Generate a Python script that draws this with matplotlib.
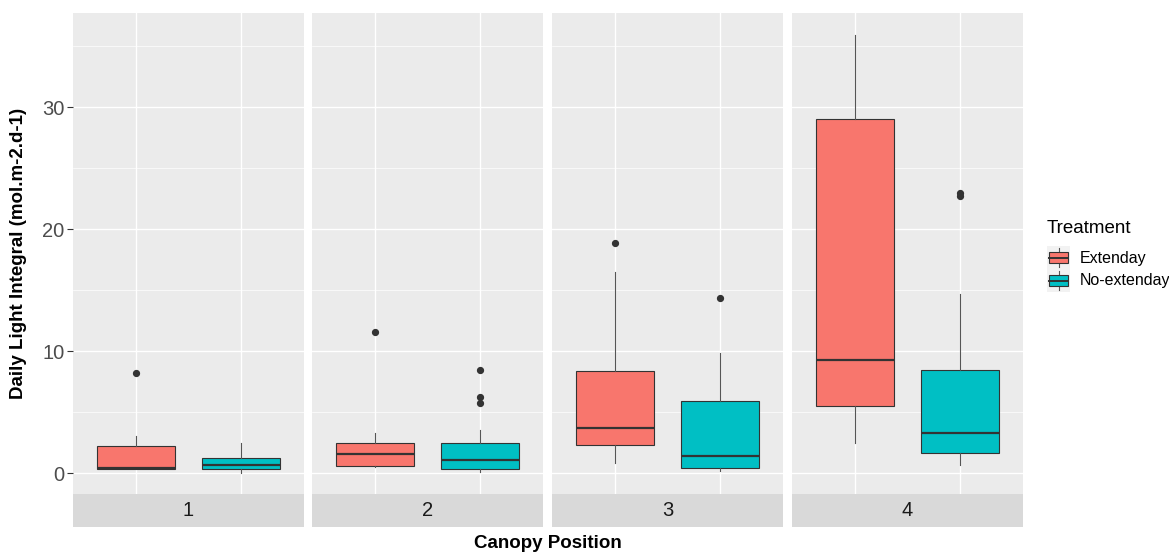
import matplotlib
matplotlib.use("Agg")
import matplotlib.pyplot as plt
from matplotlib.patches import Rectangle

plt.rcParams["font.family"] = ["Liberation Sans", "DejaVu Sans"]

# ==========================
# Box summaries per canopy position
# ==========================

positions = ["1", "2", "3", "4"]
treatments = ["Extenday", "No-extenday"]
fill_colors = {"Extenday": "#F8766D", "No-extenday": "#00BFC4"}

ext_lo = [0.33, 0.55, 0.87, 2.45]
ext_q1 = [0.33, 0.63, 2.29, 5.50]
ext_med = [0.40, 1.60, 3.73, 9.24]
ext_q3 = [2.20, 2.45, 8.34, 29.0]
ext_hi = [3.05, 3.30, 16.5, 35.9]
ext_out = [[8.25], [11.6], [18.85], []]

noext_lo = [0.05, 0.13, 0.22, 0.71]
noext_q1 = [0.38, 0.38, 0.46, 1.69]
noext_med = [0.70, 1.10, 1.42, 3.33]
noext_q3 = [1.25, 2.45, 5.94, 8.42]
noext_hi = [2.50, 3.55, 9.87, 14.72]
noext_out = [[], [8.45, 6.27, 5.78], [14.39], [22.7, 22.95]]

summaries = {
    "Extenday": (ext_lo, ext_q1, ext_med, ext_q3, ext_hi, ext_out),
    "No-extenday": (noext_lo, noext_q1, noext_med, noext_q3, noext_hi, noext_out),
}

# ==========================
# Layout (pixel based, ggplot-like)
# ==========================

W, H = 1169, 554
fig = plt.figure(figsize=(W / 100, H / 100), dpi=100)


def px_axes(x0, y0, x1, y1):
    return fig.add_axes([x0 / W, 1 - y1 / H, (x1 - x0) / W, (y1 - y0) / H])


panel_left = [73, 312, 552, 792]
panel_w = 231
top, bottom, strip_bottom = 13, 494, 527

edge = "#333333"

for i, pos in enumerate(positions):
    x0 = panel_left[i]
    ax = px_axes(x0, top, x0 + panel_w, bottom)
    ax.set_facecolor("#EBEBEB")
    for s in ax.spines.values():
        s.set_visible(False)

    stats = []
    for t in treatments:
        lo, q1, med, q3, hi, out = summaries[t]
        stats.append(dict(whislo=lo[i], q1=q1[i], med=med[i], q3=q3[i],
                          whishi=hi[i], fliers=out[i]))

    bp = ax.bxp(
        stats,
        positions=[1, 2],
        widths=0.75,
        patch_artist=True,
        showcaps=False,
        boxprops=dict(edgecolor=edge, linewidth=0.8),
        medianprops=dict(color=edge, linewidth=1.6, solid_capstyle="butt"),
        whiskerprops=dict(color="#555555", linewidth=0.8),
        flierprops=dict(marker="o", markerfacecolor=edge, markeredgecolor=edge,
                        markersize=4.2, linestyle="none"),
        zorder=3,
    )
    for patch, t in zip(bp["boxes"], treatments):
        patch.set_facecolor(fill_colors[t])

    ax.set_xlim(0.4, 2.6)
    ax.set_ylim(-1.7, 37.7)
    ax.set_xticks([1, 2])
    ax.set_yticks([0, 10, 20, 30])
    ax.set_yticks([5, 15, 25, 35], minor=True)
    ax.grid(True, which="major", color="white", linewidth=1.0, zorder=0)
    ax.grid(True, which="minor", axis="y", color="white", linewidth=0.5, zorder=0)
    ax.set_axisbelow(True)
    ax.tick_params(axis="x", length=0, labelbottom=False)
    ax.tick_params(axis="y", which="minor", length=0)
    if i == 0:
        ax.tick_params(axis="y", which="major", length=4, width=0.8, color=edge,
                       labelsize=14.5, labelcolor="#4D4D4D", pad=2)
    else:
        ax.tick_params(axis="y", which="major", length=0, labelleft=False)

    # strip below each panel
    sax = px_axes(x0, bottom, x0 + panel_w, strip_bottom)
    sax.set_facecolor("#D9D9D9")
    sax.set_xticks([])
    sax.set_yticks([])
    for s in sax.spines.values():
        s.set_visible(False)
    sax.text(0.5, 0.5, pos, ha="center", va="center", fontsize=14.5,
             color="#1A1A1A", transform=sax.transAxes)

# ==========================
# Axis titles
# ==========================

fig.text(548 / W, 1 - 543 / H, "Canopy Position", ha="center", va="center",
         fontsize=13.5, fontweight="bold")
fig.text(19 / W, 1 - 253 / H, "Daily Light Integral (mol.m-2.d-1)",
         ha="center", va="center", rotation=90, fontsize=13.5, fontweight="bold")

# ==========================
# Legend
# ==========================

fig.text(1047 / W, 1 - 228 / H, "Treatment", ha="left", va="center", fontsize=13.5)
lax = px_axes(1047, 246, 1070, 292)
lax.set_xlim(0, 1)
lax.set_ylim(2, 0)
lax.axis("off")
for k, t in enumerate(treatments):
    lax.add_patch(Rectangle((0, k), 1, 1, facecolor="#F2F2F2", edgecolor="none"))
    lax.plot([0.5, 0.5], [k + 0.1, k + 0.9], color="#555555", lw=0.8)
    lax.add_patch(Rectangle((0.1, k + 0.25), 0.8, 0.5, facecolor=fill_colors[t],
                            edgecolor=edge, lw=0.8, zorder=3))
    lax.plot([0.1, 0.9], [k + 0.5, k + 0.5], color=edge, lw=1.4, zorder=4)
    fig.text(1080 / W, 1 - (258 + 23 * k) / H, t, ha="left", va="center", fontsize=11.5)

fig.savefig("out.png", dpi=100)
